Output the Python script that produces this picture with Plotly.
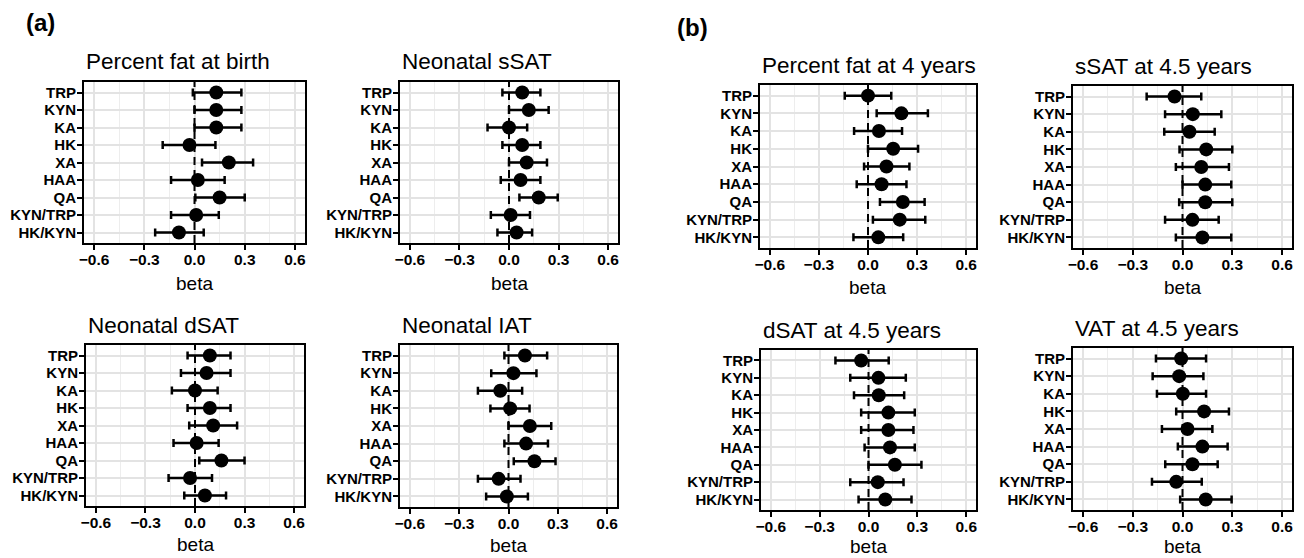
import plotly.graph_objects as go

metabolites = ["TRP", "KYN", "KA", "HK", "XA", "HAA", "QA", "KYN/TRP", "HK/KYN"]
x_ticks = [-0.6, -0.3, 0.0, 0.3, 0.6]
x_tick_labels = ["−0.6", "−0.3", "0.0", "0.3", "0.6"]

titles = ["Percent fat at birth", "Neonatal sSAT", "Neonatal dSAT", "Neonatal IAT",
          "Percent fat at 4 years", "sSAT at 4.5 years", "dSAT at 4.5 years", "VAT at 4.5 years"]

birth_pf_beta = [0.13, 0.13, 0.13, -0.03, 0.205, 0.02, 0.15, 0.01, -0.093]
birth_pf_lo = [-0.01, 0.0, 0.0, -0.19, 0.045, -0.14, 0.005, -0.14, -0.235]
birth_pf_hi = [0.28, 0.28, 0.28, 0.125, 0.35, 0.18, 0.30, 0.145, 0.055]

neo_ssat_beta = [0.08, 0.12, 0.0, 0.08, 0.107, 0.07, 0.18, 0.01, 0.046]
neo_ssat_lo = [-0.04, 0.0, -0.13, -0.04, 0.0, -0.05, 0.063, -0.11, -0.07]
neo_ssat_hi = [0.19, 0.24, 0.11, 0.19, 0.23, 0.19, 0.295, 0.127, 0.14]

neo_dsat_beta = [0.09, 0.07, 0.0, 0.09, 0.11, 0.01, 0.16, -0.03, 0.06]
neo_dsat_lo = [-0.045, -0.085, -0.14, -0.045, -0.035, -0.13, 0.026, -0.16, -0.065]
neo_dsat_hi = [0.215, 0.215, 0.137, 0.215, 0.255, 0.143, 0.30, 0.103, 0.188]

neo_iat_beta = [0.10, 0.03, -0.05, 0.01, 0.13, 0.107, 0.158, -0.06, -0.01]
neo_iat_lo = [-0.025, -0.105, -0.186, -0.11, 0.0, -0.025, 0.032, -0.186, -0.136]
neo_iat_hi = [0.235, 0.17, 0.083, 0.128, 0.26, 0.24, 0.286, 0.073, 0.118]

y4_pf_beta = [0.0, 0.204, 0.067, 0.154, 0.113, 0.083, 0.213, 0.194, 0.063]
y4_pf_lo = [-0.142, 0.053, -0.085, 0.0, -0.024, -0.069, 0.073, 0.03, -0.089]
y4_pf_hi = [0.142, 0.366, 0.208, 0.306, 0.253, 0.235, 0.346, 0.35, 0.215]

y45_ssat_beta = [-0.048, 0.062, 0.042, 0.143, 0.113, 0.137, 0.137, 0.06, 0.12]
y45_ssat_lo = [-0.216, -0.105, -0.11, -0.018, -0.04, 0.0, -0.02, -0.105, -0.04]
y45_ssat_hi = [0.113, 0.234, 0.194, 0.30, 0.28, 0.294, 0.30, 0.218, 0.294]

y45_dsat_beta = [-0.045, 0.061, 0.063, 0.122, 0.122, 0.132, 0.162, 0.057, 0.103]
y45_dsat_lo = [-0.203, -0.112, -0.089, -0.045, -0.045, -0.024, 0.0, -0.112, -0.061]
y45_dsat_hi = [0.124, 0.229, 0.219, 0.284, 0.276, 0.284, 0.325, 0.215, 0.264]

y45_vat_beta = [-0.008, -0.02, 0.002, 0.13, 0.03, 0.12, 0.06, -0.038, 0.14]
y45_vat_lo = [-0.16, -0.18, -0.154, -0.038, -0.124, -0.028, -0.104, -0.184, -0.014]
y45_vat_hi = [0.142, 0.126, 0.142, 0.28, 0.18, 0.272, 0.212, 0.116, 0.296]

panel_data = [
    (birth_pf_beta, birth_pf_lo, birth_pf_hi),
    (neo_ssat_beta, neo_ssat_lo, neo_ssat_hi),
    (neo_dsat_beta, neo_dsat_lo, neo_dsat_hi),
    (neo_iat_beta, neo_iat_lo, neo_iat_hi),
    (y4_pf_beta, y4_pf_lo, y4_pf_hi),
    (y45_ssat_beta, y45_ssat_lo, y45_ssat_hi),
    (y45_dsat_beta, y45_dsat_lo, y45_dsat_hi),
    (y45_vat_beta, y45_vat_lo, y45_vat_hi),
]

# page body has an 8px margin; the figure is drawn at that offset
OFF = 8
W, H = 1304 - OFF, 558 - OFF
# panel boxes in screen pixels: (left, right, top, bottom)
boxes = [(84, 305, 82, 243), (400, 618, 82, 243), (86, 304, 345, 506), (400, 617, 345, 507),
         (760, 976, 85, 248), (1073, 1292, 86, 248), (761, 976, 350, 510), (1073, 1292, 348, 510)]
beta_gap = [40, 40, 38, 38, 39, 39, 36, 36]


def px(xs):
    return (xs - OFF) / W


def py(ys):
    return 1 - (ys - OFF) / H


FONT = "Liberation Sans, Arial, sans-serif"
fig = go.Figure()
annotations = []
shapes = []
layout = dict(width=W, height=H, margin=dict(l=0, r=0, t=0, b=0, autoexpand=False),
              paper_bgcolor="white", plot_bgcolor="white", showlegend=False,
              font=dict(family=FONT, color="black"))

for i, ((b, lo, hi), box, title) in enumerate(zip(panel_data, boxes, titles)):
    n = i + 1
    xa = "xaxis" if n == 1 else f"xaxis{n}"
    ya = "yaxis" if n == 1 else f"yaxis{n}"
    xr = "x" if n == 1 else f"x{n}"
    yr = "y" if n == 1 else f"y{n}"
    l, r, t, bt = box
    layout[xa] = dict(domain=[px(l), px(r)], anchor=yr, range=[-0.66, 0.66],
                      tickmode="array", tickvals=x_ticks,
                      ticktext=[f"<b>{s}</b>" for s in x_tick_labels],
                      ticks="outside", ticklen=5, tickwidth=2, tickcolor="black",
                      ticklabelstandoff=-4,
                      showline=True, mirror=True, linecolor="black", linewidth=2,
                      showgrid=True, gridcolor="#e3e3e3", gridwidth=2, zeroline=False,
                      minor=dict(tickmode="array", tickvals=[-0.45, -0.15, 0.15, 0.45],
                                 showgrid=True, gridcolor="#ededed", gridwidth=1, ticks=""),
                      tickfont=dict(size=15.5, color="black", family=FONT))
    layout[ya] = dict(domain=[py(bt), py(t)], anchor=xr, type="category",
                      categoryorder="array", categoryarray=metabolites, range=[8.6, -0.6],
                      tickmode="array", tickvals=metabolites,
                      ticktext=[f"<b>{m}</b>" for m in metabolites],
                      ticks="outside", ticklen=5, tickwidth=2, tickcolor="black",
                      ticklabelstandoff=-2,
                      showline=True, mirror=True, linecolor="black", linewidth=2,
                      showgrid=True, gridcolor="#e3e3e3", gridwidth=2, zeroline=False,
                      tickfont=dict(size=15, color="black", family=FONT))
    shapes.append(dict(type="line", xref=xr, yref=f"{yr} domain", x0=0, x1=0, y0=0, y1=1,
                       line=dict(color="black", width=2, dash="8px,5px"), layer="above"))
    fig.add_trace(go.Scatter(
        x=b, y=metabolites, mode="markers", xaxis=xr, yaxis=yr,
        marker=dict(size=14, color="black"),
        error_x=dict(type="data", symmetric=False,
                     array=[h - v for h, v in zip(hi, b)],
                     arrayminus=[v - q for v, q in zip(b, lo)],
                     color="black", thickness=2.5, width=4),
    ))
    annotations.append(dict(text=title, xref="paper", yref="paper", x=px(l), y=py(t - 20),
                            xanchor="left", yanchor="middle", showarrow=False,
                            font=dict(size=22.5, color="black", family=FONT)))
    annotations.append(dict(text="beta", xref="paper", yref="paper", x=px((l + r) / 2),
                            y=py(bt + beta_gap[i]), xanchor="center", yanchor="middle",
                            showarrow=False, font=dict(size=19, color="black", family=FONT)))

annotations.append(dict(text="<b>(a)</b>", xref="paper", yref="paper", x=px(40), y=py(23),
                        xanchor="center", yanchor="middle", showarrow=False,
                        font=dict(size=24, color="black", family=FONT)))
annotations.append(dict(text="<b>(b)</b>", xref="paper", yref="paper", x=px(692), y=py(27),
                        xanchor="center", yanchor="middle", showarrow=False,
                        font=dict(size=24, color="black", family=FONT)))

layout["annotations"] = annotations
layout["shapes"] = shapes
fig.update_layout(**layout)
fig.write_html("out.html")
